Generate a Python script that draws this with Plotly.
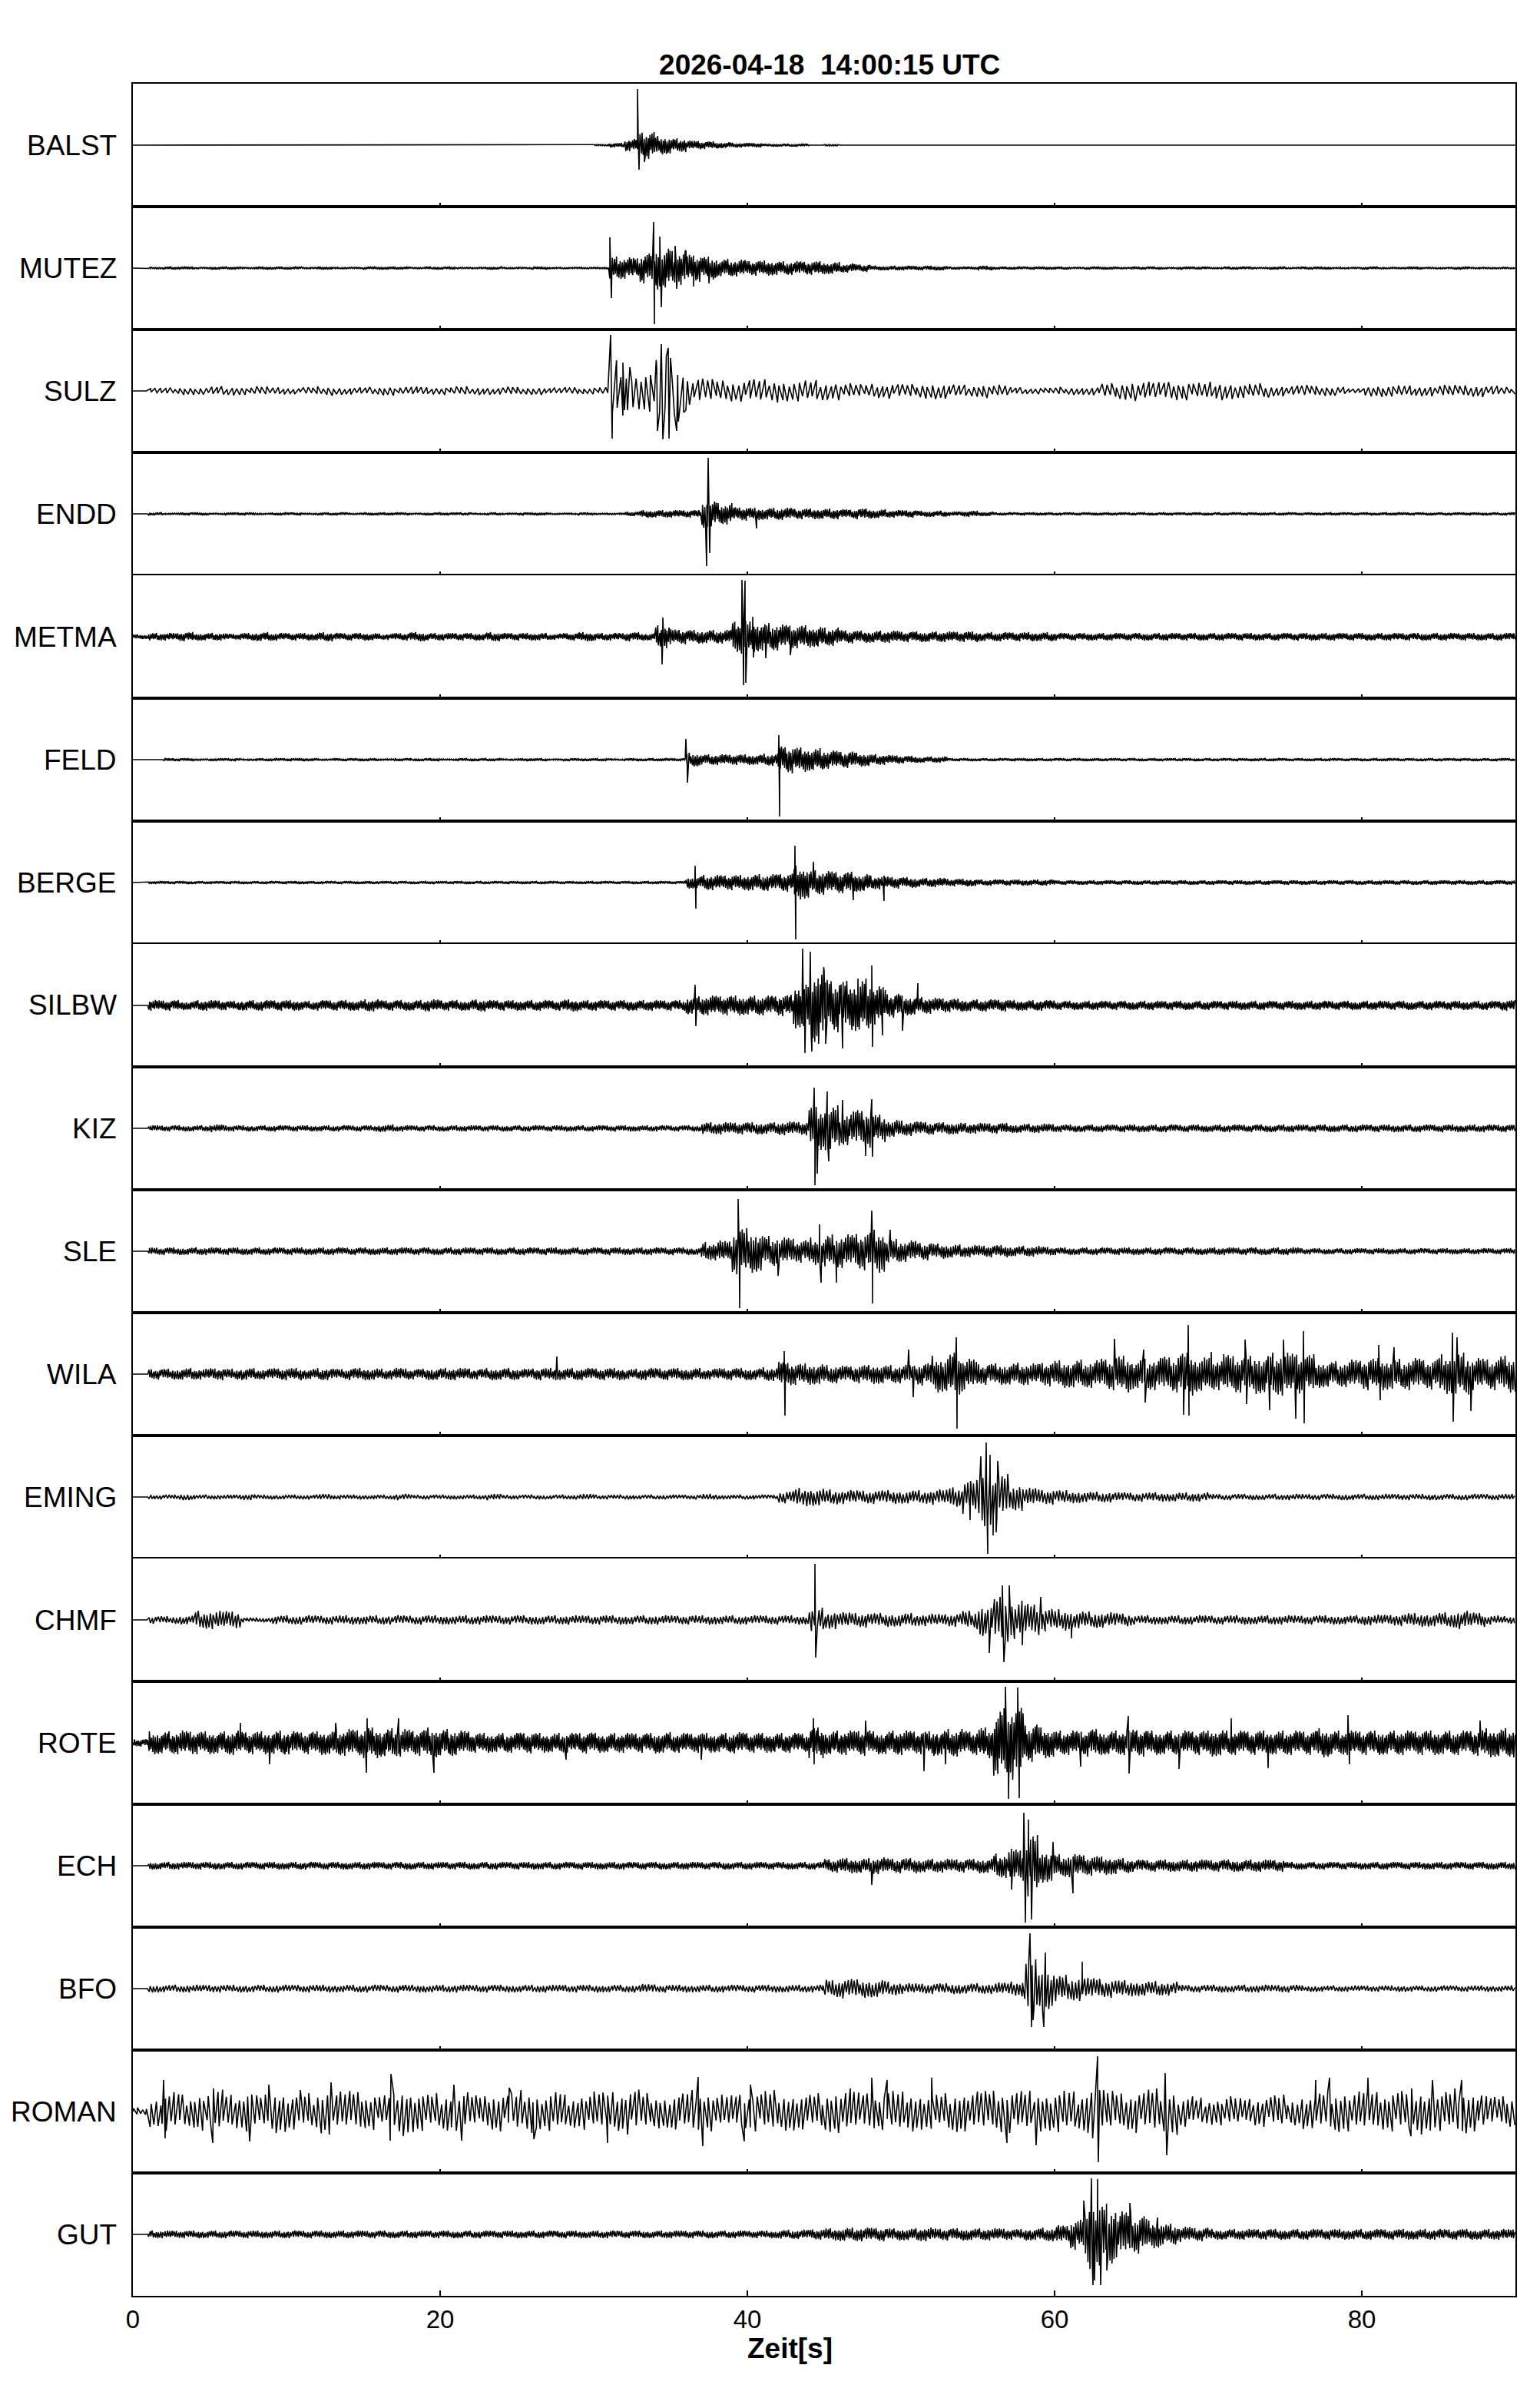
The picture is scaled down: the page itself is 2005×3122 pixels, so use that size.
import plotly.graph_objects as go
from plotly.subplots import make_subplots

# ---------------- data ----------------
STATIONS = ["BALST", "MUTEZ", "SULZ", "ENDD", "METMA", "FELD", "BERGE", "SILBW", "KIZ",
            "SLE", "WILA", "EMING", "CHMF", "ROTE", "ECH", "BFO", "ROMAN", "GUT"]
TITLE = "2026-04-18\u00a0\u00a014:00:15 UTC"
X_TITLE = "Zeit[s]"
X_TICKS = [0, 20, 40, 60, 80]

# envelope amplitude per 1-s bin (0..89 s), trace units (panel half-height = 80)
ENV_BALST = [0,0,0,0,0,0,0,0,0,0, 0,0,0,0,0,0,0,0,0,0, 0,0,0,0,0,0,0,0,0,0,
             1,3,8,18,12,9,6,5,4,3, 3,2,2,2,0,1,0,0,0,0, 0,0,0,0,0,0,0,0,0,0,
             0,0,0,0,0,0,0,0,0,0, 0,0,0,0,0,0,0,0,0,0, 0,0,0,0,0,0,0,0,0,0]
ENV_MUTEZ = [0,1,2,2,1,2,2,1,2,2, 2,1,2,1,1,2,2,2,1,2, 2,1,1,2,1,1,2,1,1,1,
             1,15,14,20,28,22,18,15,12,11, 10,10,9,9,9,8,6,5,3,3, 3,3,3,2,2,3,2,2,2,2,
             2,1,2,2,1,2,2,1,2,2, 1,2,2,1,2,1,2,2,1,1, 2,1,1,2,1,1,2,1,1,1]
ENV_SULZ = [0,4,4,5,5,6,6,5,6,5, 4,5,6,5,5,5,6,5,6,5, 5,6,5,5,6,5,5,4,5,4,
            5,40,25,30,45,35,18,16,15,14, 16,15,14,15,14,12,10,9,10,10, 9,10,11,9,8,9,8,5,4,4,
            5,5,6,10,12,13,12,13,12,11, 12,11,10,10,7,7,8,7,6,3, 7,8,8,7,7,8,8,8,7,5]
ENV_ENDD = [0,2,1,2,2,1,2,2,1,2, 2,1,2,2,1,2,2,2,1,2, 2,2,1,2,1,2,2,1,1,2,
            1,1,3,5,5,5,5,18,14,9, 8,8,8,7,7,7,6,7,6,5, 5,4,4,3,4,3,2,2,2,2,
            2,2,2,2,2,2,2,2,2,2, 2,2,2,2,2,2,2,2,2,2, 2,2,2,2,2,2,2,2,2,2]
ENV_METMA = [3,5,5,6,5,5,4,5,6,5, 5,5,6,5,5,5,4,5,6,5, 5,5,5,6,5,5,5,4,5,6,
             5,5,6,5,15,10,9,9,9,22, 20,18,16,15,14,12,9,8,8,8, 7,7,7,7,7,6,6,6,6,6,
             5,5,5,5,5,5,5,5,5,5, 5,5,5,5,5,5,5,5,5,5, 5,5,5,5,5,5,5,5,5,5]
ENV_FELD = [0,0,2,2,1,2,2,1,2,2, 2,2,1,2,2,2,1,2,2,2, 1,2,2,2,1,2,2,1,2,2,
            2,1,2,2,2,2,9,7,7,7, 7,8,18,16,15,12,11,9,7,6, 5,4,4,2,2,2,2,2,2,2,
            2,2,2,2,2,2,2,2,2,2, 2,2,2,2,2,2,2,2,2,2, 2,2,2,2,2,2,2,2,2,2]
ENV_BERGE = [0,2,2,2,2,2,2,2,2,2, 2,2,2,2,2,2,2,2,2,2, 2,2,2,2,2,2,2,2,2,2,
             2,2,2,2,2,2,8,10,10,10, 11,11,12,22,16,15,14,12,9,8, 7,6,6,5,5,4,4,4,4,4,
             3,3,3,3,3,3,3,3,3,3, 3,3,3,3,3,3,3,3,3,3, 3,3,3,3,3,3,3,3,3,3]
ENV_SILBW = [0,7,7,6,7,7,6,7,7,7, 7,6,7,7,7,8,7,7,7,8, 7,7,8,7,7,7,7,7,8,7,
             7,7,7,7,7,7,12,13,13,13, 13,13,14,30,50,35,32,35,25,16, 13,11,10,9,8,8,8,7,7,7,
             6,6,6,6,6,6,6,6,6,6, 6,6,6,6,6,6,6,6,6,6, 6,6,6,6,6,6,6,6,6,7]
ENV_KIZ = [0,4,4,4,4,5,4,4,4,4, 4,4,4,4,4,4,5,4,4,4, 4,4,4,4,4,4,4,4,4,4,
           4,4,4,4,4,4,4,8,8,8, 8,8,9,9,28,30,22,25,18,12, 10,9,8,8,7,7,7,6,6,6,
           5,5,5,5,5,5,5,5,5,5, 5,5,5,5,5,5,5,5,5,5, 5,5,5,5,5,5,5,5,5,5]
ENV_SLE = [0,5,5,5,5,5,5,5,5,5, 5,5,5,5,5,5,5,5,5,5, 5,5,5,5,5,5,5,5,5,5,
           5,5,5,5,5,5,5,12,14,30, 28,20,18,15,18,22,22,25,28,16, 14,12,10,9,8,8,8,7,7,6,
           5,5,5,5,5,5,5,5,5,5, 5,5,5,5,5,5,4,4,4,4, 4,4,4,4,4,4,4,4,4,4]
ENV_WILA = [0,7,7,8,7,8,7,8,7,8, 8,7,8,7,8,8,7,8,7,8, 8,8,7,8,8,7,8,8,8,8,
            8,8,7,8,8,8,8,7,8,8, 8,9,16,14,14,12,11,12,13,12, 12,15,24,28,20,14,14,15,14,16,
            18,19,18,21,24,20,21,24,28,24, 21,26,24,26,28,28,26,18,17,19, 21,21,20,21,20,26,28,21,21,24]
ENV_EMING = [0,3,3,4,3,3,3,4,3,3, 3,3,4,3,3,3,3,4,3,3, 3,3,3,4,3,3,3,3,3,4,
             3,3,3,3,3,3,3,4,3,3, 3,3,8,12,12,10,9,9,9,9, 9,9,10,14,22,38,30,18,12,10,
             9,8,7,7,6,6,6,6,6,6, 4,4,4,4,4,4,4,4,4,4, 4,4,4,4,4,4,4,4,4,4]
ENV_CHMF = [0,5,5,6,12,12,12,3,3,6, 6,6,6,6,6,6,6,6,6,6, 6,6,6,6,6,6,6,6,6,6,
            6,6,6,6,6,6,6,6,6,6, 6,6,6,6,16,12,10,10,9,9, 9,8,8,9,12,22,30,25,22,15,
            14,12,11,10,9,6,6,6,6,6, 6,6,6,6,6,6,6,6,6,6, 7,7,8,9,9,10,12,10,6,5]
ENV_ROTE = [5,15,15,16,15,15,16,15,15,16, 15,15,16,17,18,20,19,18,17,20, 18,16,13,13,13,14,13,13,13,14,
            13,13,13,13,14,13,13,13,13,14, 13,13,13,13,20,16,16,17,15,16, 16,15,17,18,16,20,45,48,25,20,
            16,16,18,16,16,18,16,16,16,16, 18,16,16,16,16,16,16,19,16,16, 16,16,16,16,16,16,16,17,19,19]
ENV_ECH = [0,5,5,5,5,5,5,5,5,5, 5,5,5,5,5,5,5,5,5,5, 5,5,5,5,5,5,5,5,5,5,
           5,5,5,5,5,5,5,5,5,5, 5,5,5,5,5,9,10,10,11,10, 10,9,9,9,9,10,16,22,40,22,
           15,15,13,12,10,8,8,8,8,8, 8,8,8,8,8,5,5,5,5,5, 5,5,5,5,5,5,5,5,5,5]
ENV_BFO = [0,5,5,5,5,5,5,5,5,5, 5,5,5,5,5,5,5,5,5,5, 5,5,5,5,5,5,5,5,5,5,
           5,5,5,6,5,5,5,5,5,5, 5,5,5,5,5,12,13,12,12,9, 7,7,7,7,7,7,8,10,38,28,
           18,16,14,12,11,10,10,9,5,5, 5,5,5,5,5,5,4,4,4,4, 4,4,4,4,4,4,4,4,4,4]
ENV_ROMAN = [5,20,28,22,25,30,24,26,22,28, 26,24,30,26,28,24,22,32,28,24, 26,25,22,26,24,28,24,28,22,24,
             26,28,30,24,22,26,28,26,22,24, 26,28,25,26,24,28,30,26,24,28, 26,25,24,28,26,28,30,28,27,26,
             30,26,35,28,26,28,30,32,22,18, 18,20,18,20,22,18,24,26,28,26, 28,26,28,30,26,28,30,26,20,22]
ENV_GUT = [0,5,5,5,5,5,5,5,5,5, 5,5,5,5,5,5,5,5,5,5, 5,5,5,5,5,5,5,5,5,5,
           5,5,5,5,5,5,5,5,5,5, 5,5,6,6,7,8,9,9,9,8, 8,9,8,8,8,8,8,7,8,9,
           12,20,45,40,30,25,18,14,10,9, 7,7,7,7,7,7,7,7,7,7, 7,7,7,7,7,7,7,7,7,7]

# individual large swings: (time s, signed amplitude)
PK_BALST = [(32.85, 73), (32.95, -32), (33.3, -22)]
PK_MUTEZ = [(31.05, 40), (31.15, -39), (33.9, 60), (33.95, -73), (34.3, 41), (34.4, -51), (35.3, 29), (35.4, -27),
            (36.0, 23), (36.5, -24), (37.5, -20)]
PK_SULZ = [(31.1, 73), (31.2, -62), (31.9, 37), (32.0, -25), (32.35, 31), (34.1, 31), (34.15, -52),
           (34.4, 61), (34.5, -63), (34.85, 56), (34.9, -62), (35.0, 43), (35.4, -52), (35.5, -40), (36.0, -25)]
PK_ENDD = [(37.35, -68), (37.45, 73), (37.55, -51), (40.6, -19)]
PK_METMA = [(34.45, -36), (34.5, 25), (39.65, 74), (39.75, -63), (39.85, 73), (39.9, -60),
            (40.35, 26), (40.4, -27), (41.2, -28), (42.8, -24)]
PK_FELD = [(36.0, 27), (36.1, -30), (42.05, 32), (42.1, -74)]
PK_BERGE = [(36.6, 22), (36.65, -34), (43.1, 48), (43.15, -74), (44.3, 27), (46.9, -23), (48.9, -24)]
PK_SILBW = [(36.6, 27), (36.65, -27), (43.6, 74), (43.75, -62), (44.1, 70), (44.2, -60), (45.0, 45), (45.1, -50),
            (46.2, -56), (47.2, 35), (48.1, 52), (48.15, -54), (48.8, -39), (50.1, -33), (51.1, 29)]
PK_KIZ = [(44.35, 53), (44.4, -74), (44.55, -59), (45.2, 48), (45.3, -43), (46.2, 37), (47.7, -36),
          (48.1, 38), (48.15, -37)]
PK_SLE = [(39.4, 68), (39.5, -74), (42.0, -32), (44.7, 35), (44.8, -41), (45.8, -41), (48.1, 53), (48.15, -68),
          (49.3, 28)]
PK_WILA = [(27.6, 23), (42.4, 30), (42.45, -54), (50.5, 32), (50.8, -30), (53.6, 48), (53.65, -71), (63.9, 46),
           (65.8, 32), (65.9, -37), (68.4, -53), (68.7, 64), (68.75, -54), (70.2, 29), (72.4, 45), (72.5, -39),
           (74.0, -47), (74.9, 45), (75.7, -58), (76.2, 56), (76.25, -64), (81.1, 38), (81.2, -34), (82.1, 35),
           (85.9, 54), (85.95, -62), (86.2, 48), (87.1, -48)]
PK_EMING = [(54.5, -30), (55.2, 53), (55.55, 71), (55.65, -74), (55.8, 55), (56.0, -50), (56.2, -46), (56.3, 47)]
PK_CHMF = [(44.4, 73), (44.45, -49), (55.75, -43), (56.6, 45), (56.7, -55), (57.05, 45), (57.9, -33), (59.1, 30),
           (61.1, -24)]
PK_ROTE = [(7.0, 26), (8.9, -28), (13.2, 26), (15.2, -39), (15.25, 32), (17.3, 32), (19.6, -39), (28.2, -22),
           (37.0, -22), (44.3, 32), (44.35, -28), (47.7, 29), (51.5, -37), (52.9, -28), (56.8, 73), (57.0, -73),
           (57.6, 72), (57.7, -72), (61.7, -31), (64.8, 35), (64.85, -40), (68.1, -34), (71.5, 32), (73.9, -33),
           (79.1, 36), (79.2, -28), (87.7, 29)]
PK_ECH = [(48.1, -25), (57.2, -31), (58.0, 69), (58.1, -74), (58.3, 60), (58.5, -70), (59.9, 31), (61.2, -36)]
PK_BFO = [(58.4, 72), (58.5, -50), (58.6, -41), (59.3, -50), (59.4, 47), (61.8, 35)]
PK_ROMAN = [(2.0, 41), (2.1, -35), (5.2, -41), (7.6, -39), (8.85, 35), (10.9, 28), (12.9, 38), (16.75, -38),
            (16.8, 49), (20.9, 35), (21.4, -38), (24.5, 31), (26.1, -36), (30.9, -41), (36.8, 45), (37.1, -45),
            (39.8, -39), (40.2, 35), (48.1, 44), (49.1, 41), (52.0, 44), (56.9, -41), (58.8, -44), (62.8, 72),
            (62.85, -66), (67.2, 50), (67.3, -57), (77.0, 41), (77.9, 44), (80.4, 44), (83.2, -32), (84.6, 41),
            (86.5, 41)]
PK_GUT = [(61.9, 44), (62.4, 73), (62.5, -66), (62.6, -60), (62.8, 72), (63.0, -66), (63.4, -47), (64.9, 41),
          (66.7, 22)]

ENVELOPES = [ENV_BALST, ENV_MUTEZ, ENV_SULZ, ENV_ENDD, ENV_METMA, ENV_FELD, ENV_BERGE, ENV_SILBW, ENV_KIZ,
             ENV_SLE, ENV_WILA, ENV_EMING, ENV_CHMF, ENV_ROTE, ENV_ECH, ENV_BFO, ENV_ROMAN, ENV_GUT]
PEAKS = [PK_BALST, PK_MUTEZ, PK_SULZ, PK_ENDD, PK_METMA, PK_FELD, PK_BERGE, PK_SILBW, PK_KIZ,
         PK_SLE, PK_WILA, PK_EMING, PK_CHMF, PK_ROTE, PK_ECH, PK_BFO, PK_ROMAN, PK_GUT]

# ---------------- drawing style ----------------
VERTS_PER_S = [16, 16, 6, 16, 16, 16, 16, 16, 14, 14, 14, 10, 10, 16, 14, 10, 7, 14]
# fixed stroke shape (relative swing height / vertex placement) used to draw the envelopes
STROKE_TEXTURE = [1.0, 0.5, 0.85, 0.65, 0.95, 0.4, 0.8, 0.6, 0.9, 0.7, 0.45, 0.9, 0.6, 0.8, 0.5,
                  1.0, 0.75, 0.35, 0.85, 0.6, 0.95, 0.5, 0.8, 0.7, 1.0, 0.55, 0.45, 0.8, 0.65]
STROKE_SHIFT = [0.0, 0.3, -0.2, 0.4, -0.35, 0.1, -0.1, 0.25, -0.3, 0.35, -0.15, 0.05, 0.2]
FONT = "Liberation Sans, Arial, sans-serif"
N = len(STATIONS)
PAGE_PAD = 8  # default page margin of the html body


def trace_points(env, peaks, n, offset):
    pts = [(0.0, 0.0)]
    j = offset * 5
    for k, a in enumerate(env):
        for i in range(n):
            sgn = 1 if j % 2 == 0 else -1
            t = k + (i + 0.5 + STROKE_SHIFT[j % len(STROKE_SHIFT)]) / n
            pts.append((t, sgn * a * STROKE_TEXTURE[j % len(STROKE_TEXTURE)]))
            j += 1
    pts += list(peaks)
    pts.sort()
    return [p[0] for p in pts], [p[1] for p in pts]


fig = make_subplots(rows=N, cols=1, shared_xaxes=True, vertical_spacing=0)

for r in range(N):
    xs, ys = trace_points(ENVELOPES[r], PEAKS[r], VERTS_PER_S[r], r)
    fig.add_trace(go.Scatter(x=xs, y=ys, mode="lines", line=dict(color="black", width=1.6),
                             showlegend=False, hoverinfo="skip"), row=r + 1, col=1)
    fig.update_yaxes(range=[-80, 80], showticklabels=False, showgrid=False, zeroline=False,
                     showline=True, mirror=True, linecolor="black", linewidth=2, ticks="",
                     row=r + 1, col=1)
    last = (r == N - 1)
    fig.update_xaxes(range=[0, 90], showgrid=False, zeroline=False, showline=True, mirror=True,
                     linecolor="black", linewidth=2, ticks="inside", tickvals=X_TICKS,
                     ticklen=7 if last else 5, tickwidth=2, tickcolor="black",
                     showticklabels=last, tickfont=dict(family=FONT, size=33, color="black"),
                     row=r + 1, col=1)
    fig.add_annotation(text=STATIONS[r], xref="paper", yref=("y" if r == 0 else f"y{r+1}"),
                       x=0, y=0, xanchor="right", yanchor="middle", xshift=-19, showarrow=False,
                       font=dict(family=FONT, size=37, color="black"))

fig.add_annotation(text="<b>" + X_TITLE + "</b>", xref="paper", yref="paper", x=0.475, y=0,
                   xanchor="center", yanchor="middle", yshift=-68, showarrow=False,
                   font=dict(family=FONT, size=37, color="black"))

W, H = 2005 - PAGE_PAD, 3122 - PAGE_PAD
fig.update_layout(
    width=W, height=H,
    margin=dict(l=173 - PAGE_PAD, r=32, t=109 - PAGE_PAD, b=133),
    paper_bgcolor="white", plot_bgcolor="white",
    title=dict(text="<b>" + TITLE + "</b>", x=0.504, xref="paper", xanchor="center",
               y=1 - (84 - PAGE_PAD) / H, yref="container", yanchor="middle",
               font=dict(family=FONT, size=37, color="black")),
)

fig.write_html("out.html")
